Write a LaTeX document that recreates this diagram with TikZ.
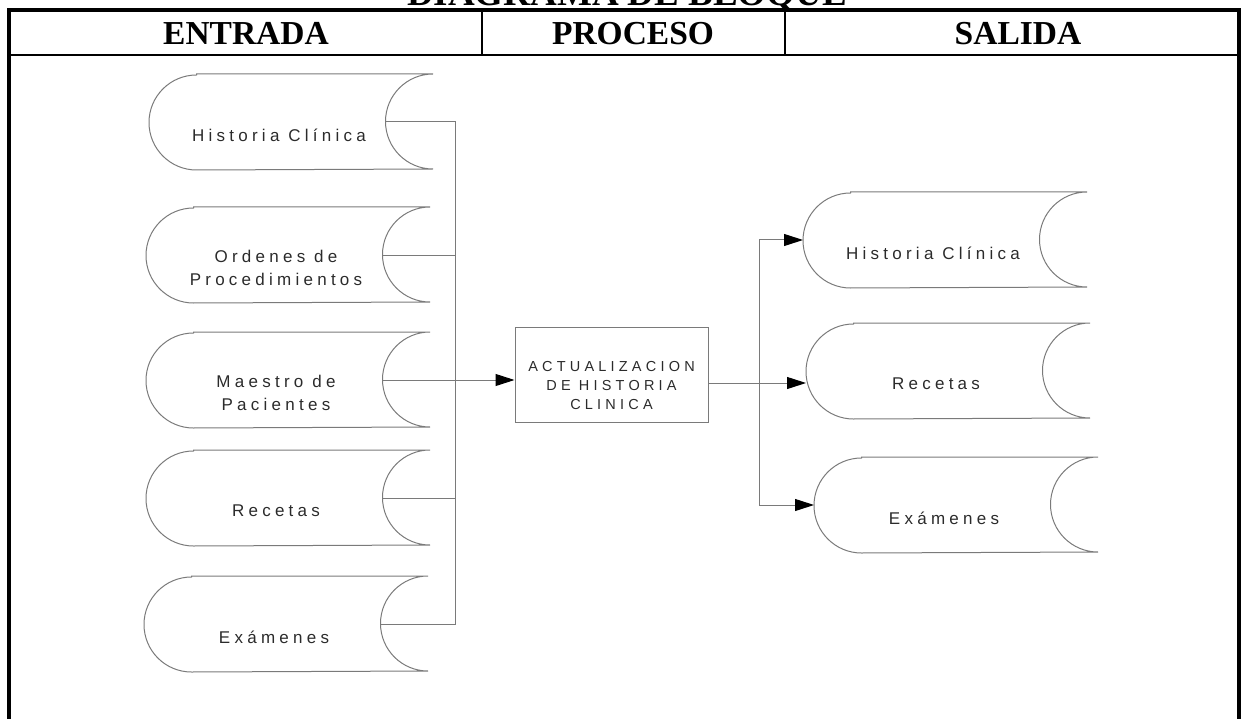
\documentclass[tikz,border=0pt]{standalone}
\usepackage{fontspec}
\setmainfont{Liberation Serif}
\newfontfamily\espaciada[LetterSpace=25]{Liberation Sans}
\newfontfamily\espaciadab[LetterSpace=29]{Liberation Sans}
\usetikzlibrary{arrows.meta, positioning, calc}
\definecolor{cgris}{HTML}{7A7A7A}
\definecolor{ctexto}{HTML}{2B2B2B}
\tikzset{
  every picture/.style={x=1pt, y=1pt, line width=1pt},
  archivo/.style={minimum width=283pt, minimum height=95pt, inner sep=0pt},
  borde/.style={draw=cgris, line width=1pt},
  archtxt/.style={font=\espaciada\fontsize{17}{23}\selectfont, text=ctexto, align=center},
  proceso/.style={draw=cgris, minimum width=193pt, minimum height=95pt, inner sep=0pt},
  proctxt/.style={font=\espaciadab\fontsize{14.5}{19}\selectfont, text=ctexto, align=center},
  linea/.style={draw=cgris, line width=1pt},
  flecha/.style={linea, -{Triangle[length=19pt, width=12pt, color=black]}},
  encabezado/.style={font=\bfseries\fontsize{33.5}{36}\selectfont, anchor=base},
  titulo/.style={font=\bfseries\fontsize{37}{40}\selectfont, anchor=base},
  marco/.style={line width=4pt},
}
% archivo: nombre, centro, texto
\newcommand{\archivo}[3]{%
  \node[archivo] (#1) at (#2) {};
  \draw[borde] ([xshift=47.5pt]#1.north west) -- (#1.north east)
    arc[start angle=90, end angle=270, radius=47.5pt]
    -- ([xshift=47.5pt]#1.south west)
    arc[start angle=270, end angle=90, radius=47.5pt] -- cycle;
  \coordinate (#1-in) at ([xshift=-47.5pt]#1.east);
  \node[archtxt] (#1-txt) at ([xshift=-12pt, yshift=-13pt]#1.center) {#3};
}

\begin{document}
\begin{tikzpicture}
  \useasboundingbox (0,0) rectangle (1249,-719);
  \begin{scope}
    \clip (0,0) rectangle (1249,-719);
    \node[titulo] (tit) at (627,-6) {DIAGRAMA DE BLOQUE};
  \end{scope}

  % marco y encabezados
  \draw[marco] (9,-725) -- (9,-10) -- (1239,-10) -- (1239,-725);
  \draw[line width=2pt] (9,-55) -- (1239,-55);
  \draw[line width=1.5pt] (482,-10) -- (482,-55);
  \draw[line width=1.5pt] (785,-10) -- (785,-55);
  \node[encabezado] (hent) at (246,-45) {ENTRADA};
  \node[encabezado] (hpro) at (633,-45) {PROCESO};
  \node[encabezado] (hsal) at (1018,-45) {SALIDA};

  % entradas
  \archivo{e1}{291,-122}{Historia Clínica}
  \archivo{e2}{288,-255}{Ordenes de\\Procedimientos}
  \archivo{e3}{288,-380}{Maestro de\\Pacientes}
  \archivo{e4}{288,-498}{Recetas}
  \archivo{e5}{286,-624}{Exámenes}

  % proceso
  \node[proceso] (proc) at (611.5,-374.5) {};
  \node[proctxt] (proc-txt) at ([yshift=-11pt]proc.center) {ACTUALIZACION\\DE HISTORIA\\CLINICA};

  % salidas
  \archivo{s1}{945,-240}{Historia Clínica}
  \archivo{s2}{948,-371}{Recetas}
  \archivo{s3}{956,-505}{Exámenes}

  % conectores
  \coordinate (bus1) at (455,0);
  \coordinate (bus2) at (759,0);
  \coordinate (sal) at ([yshift=-8.5pt]proc.east);
  \draw[linea] (e1-in) -| (bus1 |- e5-in) -- (e5-in);
  \draw[linea] (e2-in) -- (e2-in -| bus1);
  \draw[linea] (e4-in) -- (e4-in -| bus1);
  \draw[flecha] (e3-in) -- (e3-in -| proc.west);
  \draw[flecha] (sal) -- (sal -| s2.west);
  \draw[flecha] (sal -| bus2) |- (s1.west);
  \draw[flecha] (sal -| bus2) |- (s3.west);
\end{tikzpicture}
\end{document}
